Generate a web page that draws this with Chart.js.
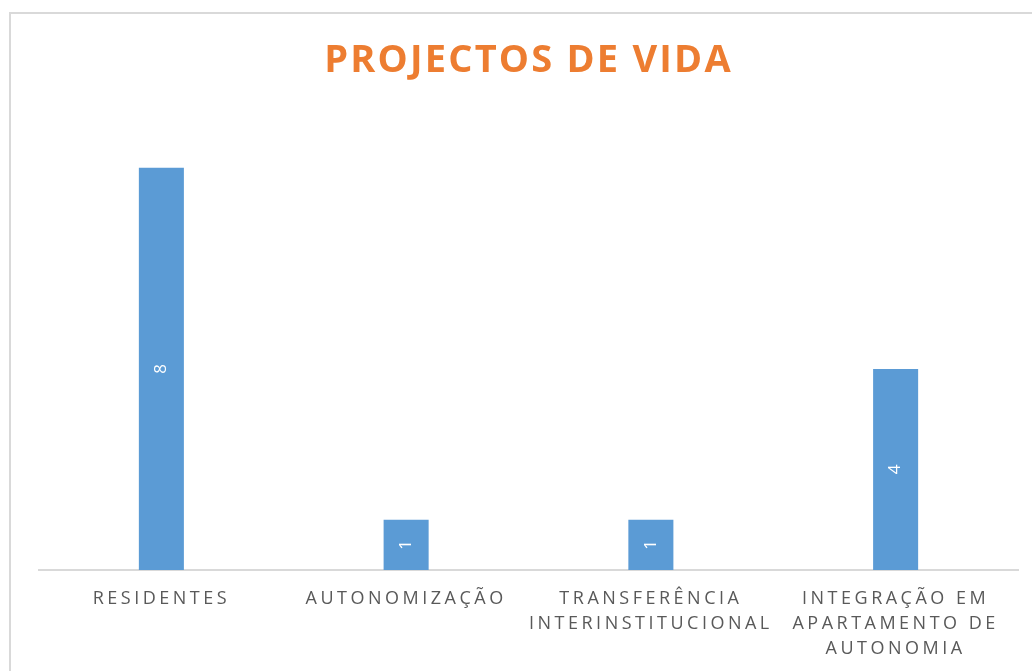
<!DOCTYPE html>
<html>
<head>
<meta charset="utf-8">
<title>Projectos de Vida</title>
<script src="https://cdn.jsdelivr.net/npm/chart.js@4.4.1/dist/chart.umd.min.js"></script>
<style>
  html, body { margin: 0; padding: 0; background: #fff; overflow: hidden; }
  #box {
    position: absolute; left: 9px; top: 12px;
    width: 1060px; height: 720px;
    border: 2px solid #d9d9d9;
  }
  #myChart { display: block; }
</style>
</head>
<body>
<div id="box">
  <canvas id="myChart" width="1040" height="671"></canvas>
</div>
<script>
// data
const categories = [
  'RESIDENTES',
  'AUTONOMIZAÇÃO',
  ['TRANSFERÊNCIA', 'INTERINSTITUCIONAL'],
  ['INTEGRAÇÃO EM', 'APARTAMENTO DE', 'AUTONOMIA']
];
const values = [8, 1, 1, 4];
const yMax = 9;

// letter spacing for the title and the axis labels (canvas state)
const spacing = {
  id: 'spacing',
  beforeDraw(chart) {
    const tb = chart.titleBlock;
    if (tb && !tb._spaced) {
      const orig = tb.draw.bind(tb);
      tb.draw = function (area) {
        chart.ctx.save();
        chart.ctx.letterSpacing = '2.2px';
        orig(area);
        chart.ctx.restore();
      };
      tb._spaced = true;
    }
    chart.ctx.letterSpacing = '3.5px';
  }
};

// rotated value labels in the middle of each bar
const barLabels = {
  id: 'barLabels',
  afterDatasetsDraw(chart) {
    const ctx = chart.ctx;
    const meta = chart.getDatasetMeta(0);
    meta.data.forEach((bar, i) => {
      const mid = (bar.y + bar.base) / 2;
      ctx.save();
      ctx.letterSpacing = '0px';
      ctx.translate(bar.x, mid);
      ctx.rotate(-Math.PI / 2);
      ctx.font = '17px "Open Sans"';
      ctx.fillStyle = '#ffffff';
      ctx.textAlign = 'center';
      ctx.textBaseline = 'middle';
      ctx.fillText(String(values[i]), 0, 0);
      ctx.restore();
    });
  }
};

const config = {
  type: 'bar',
  data: {
    labels: categories,
    datasets: [{
      data: values,
      backgroundColor: '#5b9bd5',
      borderWidth: 0,
      categoryPercentage: 0.184,
      barPercentage: 1
    }]
  },
  options: {
    responsive: false,
    animation: false,
    events: [],
    layout: {
      padding: { left: 28, right: 33, top: 0, bottom: 8 }
    },
    plugins: {
      legend: { display: false },
      tooltip: { enabled: false },
      title: {
        display: true,
        text: 'PROJECTOS DE VIDA',
        color: '#ed7d31',
        font: { family: '"Open Sans"', size: 38, weight: 'bold', lineHeight: 1.2 },
        padding: { top: 24, bottom: 34 }
      }
    },
    scales: {
      x: {
        grid: { display: false, drawTicks: false },
        border: { display: true, color: '#d9d9d9', width: 2 },
        ticks: {
          color: '#595959',
          font: { family: '"Open Sans"', size: 18, lineHeight: 25 / 18 },
          padding: 16,
          autoSkip: false,
          maxRotation: 0,
          minRotation: 0
        }
      },
      y: {
        display: false,
        min: 0,
        max: yMax
      }
    }
  },
  plugins: [spacing, barLabels]
};

var ctx = document.getElementById('myChart').getContext('2d');
var chart = new Chart(ctx, config);
</script>
</body>
</html>
